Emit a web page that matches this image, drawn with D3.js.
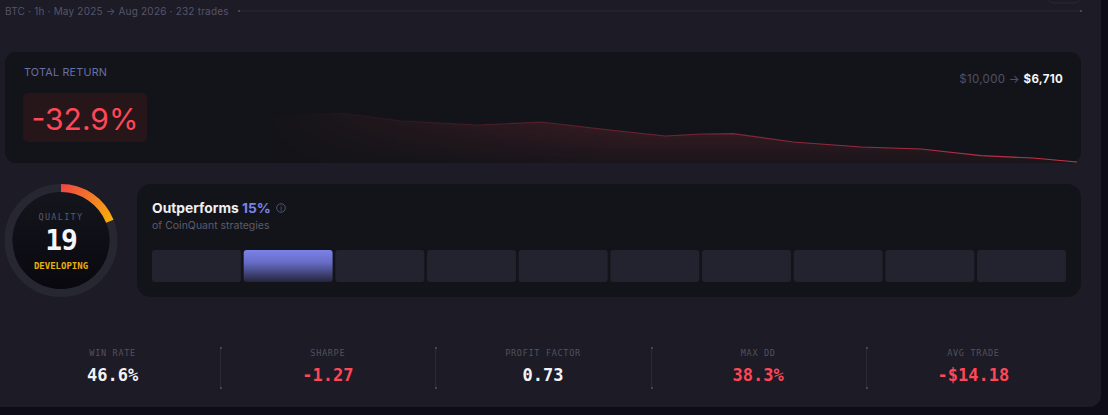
<!DOCTYPE html>
<html>
<head>
<meta charset="utf-8">
<script src="https://cdn.jsdelivr.net/npm/d3@7"></script>
<style>
    html, body { margin: 0; padding: 0; background: #0e0d17; overflow: hidden; }
    svg { display: block; }
    text { font-family: Inter, "Noto Sans", sans-serif; }
    .mono { font-family: "DejaVu Sans Mono", "Liberation Mono", monospace; }
</style>
</head>
<body>
<svg id="chart" width="1108" height="415"></svg>
<script>
// equity curve
const tradeNumbers = [0, 25, 48, 63, 82, 98, 113, 129, 138, 146, 161, 178, 193, 208, 221, 232];
const equityValues = [10000, 10250, 10547, 9920, 9607, 9842, 9294, 8746, 8902, 8926, 8276, 7885, 7728, 7203, 7023, 6710];

const headerText = "BTC · 1h · May 2025 → Aug 2026 · 232 trades";
const totalReturn = "-32.9%";
const startEquity = "$10,000";
const endEquity = "$6,710";

const qualityScore = 19;
const qualityLabel = "DEVELOPING";

const percentileBuckets = ["0-10", "10-20", "20-30", "30-40", "40-50", "50-60", "60-70", "70-80", "80-90", "90-100"];
const outperforms = 15;

const statLabels = ["WIN RATE", "SHARPE", "PROFIT FACTOR", "MAX DD", "AVG TRADE"];
const statValues = ["46.6%", "-1.27", "0.73", "38.3%", "-$14.18"];
const statIsBad = [false, true, false, true, true];

const red = "#ff4757", indigo = "#7c83e8";
const svg = d3.select("#chart");
const defs = svg.append("defs");

function linearGradient(id, attrs, stops) {
    const g = defs.append("linearGradient").attr("id", id);
    Object.keys(attrs).forEach(function (k) { g.attr(k, attrs[k]); });
    stops.forEach(function (s) {
        g.append("stop").attr("offset", s[0]).attr("stop-color", s[1]).attr("stop-opacity", s[2]);
    });
}

linearGradient("areaFill", {gradientUnits: "userSpaceOnUse", x1: 0, x2: 0, y1: 113, y2: 163},
    [[0, "#ff4757", 0.2], [1, "#ff4757", 0.03]]);
linearGradient("lineStroke", {gradientUnits: "userSpaceOnUse", x1: 300, x2: 1077, y1: 0, y2: 0},
    [[0, "#c8324a", 0], [0.35, "#c8324a", 0.35], [1, "#c8324a", 1]]);
linearGradient("areaFade", {gradientUnits: "userSpaceOnUse", x1: 260, x2: 640, y1: 0, y2: 0},
    [[0, "#fff", 0], [1, "#fff", 1]]);
// the gauge group is translated, so these coordinates are relative to its centre
linearGradient("arcFill", {gradientUnits: "userSpaceOnUse", x1: 0, y1: -56, x2: 51, y2: -18},
    [[0, "#ef4444", 1], [1, "#f8b208", 1]]);
linearGradient("bucketFill", {x1: 0, x2: 0, y1: 0, y2: 1},
    [[0, "#7c83e8", 1], [0.4, "#666bc4", 1], [1, "#24243a", 1]]);
linearGradient("coreFill", {x1: 0, x2: 0, y1: 0, y2: 1},
    [[0, "#15151d", 1], [1, "#09080f", 1]]);
defs.append("mask").attr("id", "areaMask")
    .attr("maskUnits", "userSpaceOnUse")
    .attr("x", 0).attr("y", 0).attr("width", 1108).attr("height", 415)
    .append("rect").attr("width", 1108).attr("height", 415).attr("fill", "url(#areaFade)");

// page panel
svg.append("rect").attr("x", -20).attr("y", -20).attr("width", 1121).attr("height", 427)
    .attr("rx", 12).attr("fill", "#1c1b26");

// header row
svg.append("text").attr("x", 5).attr("y", 14.5)
    .attr("font-size", 10).attr("letter-spacing", 0.2).attr("fill", "#55556a")
    .text(headerText);
svg.append("line").attr("x1", 239).attr("x2", 1081).attr("y1", 11).attr("y2", 11)
    .attr("stroke", "#2a2937");
[238, 1080].forEach(function (x) {
    svg.append("rect").attr("x", x).attr("y", 10).attr("width", 2).attr("height", 2).attr("fill", "#45455a");
});
svg.append("rect").attr("x", 1048).attr("y", -20).attr("width", 32).attr("height", 23)
    .attr("rx", 6).attr("fill", "none").attr("stroke", "#2a2937");

// total return card
svg.append("rect").attr("x", 5).attr("y", 52).attr("width", 1076).attr("height", 111)
    .attr("rx", 11).attr("fill", "#131419");

const x = d3.scaleLinear().domain([0, 232]).range([150, 1077]);
const y = d3.scaleLinear().domain([6710, 10000]).range([162, 120]);
const equity = tradeNumbers.map(function (t, i) { return {trade: t, equity: equityValues[i]}; });

const area = d3.area()
    .x(function (d) { return x(d.trade); })
    .y0(163)
    .y1(function (d) { return y(d.equity); });
const line = d3.line()
    .x(function (d) { return x(d.trade); })
    .y(function (d) { return y(d.equity); });

svg.append("path").datum(equity).attr("d", area)
    .attr("fill", "url(#areaFill)").attr("mask", "url(#areaMask)");
svg.append("path").datum(equity).attr("d", line)
    .attr("fill", "none").attr("stroke", "url(#lineStroke)").attr("stroke-width", 1.2);

svg.append("text").attr("x", 24).attr("y", 76)
    .attr("font-size", 10.8).attr("letter-spacing", 0.2).attr("fill", "#6570a8")
    .text("TOTAL RETURN");
svg.append("rect").attr("x", 23).attr("y", 93).attr("width", 124).attr("height", 49)
    .attr("rx", 5).attr("fill", "#261519");
svg.append("text").attr("x", 85).attr("y", 129.5).attr("text-anchor", "middle")
    .attr("font-size", 30).attr("fill", red)
    .text(totalReturn);

const equityText = svg.append("text").attr("x", 1063).attr("y", 83).attr("text-anchor", "end")
    .attr("font-size", 11.5).attr("letter-spacing", 0.3);
equityText.append("tspan").attr("fill", "#4f5064").text(startEquity + " → ");
equityText.append("tspan").attr("fill", "#f5f6fa").attr("font-weight", 700).text(endEquity);

// quality gauge
const gauge = svg.append("g").attr("transform", "translate(61,240.5)");
const angle = d3.scaleLinear().domain([0, 100]).range([0, 2 * Math.PI]);
gauge.append("circle").attr("r", 52.5).attr("fill", "none").attr("stroke", "#272732").attr("stroke-width", 8);
gauge.append("circle").attr("r", 48.5).attr("fill", "url(#coreFill)");

gauge.append("path")
    .attr("d", d3.arc().innerRadius(48.5).outerRadius(56.5).startAngle(0).endAngle(angle(qualityScore)))
    .attr("fill", "url(#arcFill)");

gauge.append("text").attr("class", "mono").attr("y", -20.5).attr("text-anchor", "middle")
    .attr("font-size", 8.5).attr("letter-spacing", 1.3).attr("fill", "#5a5a70")
    .text("QUALITY");
gauge.append("text").attr("class", "mono").attr("y", 9).attr("text-anchor", "middle")
    .attr("font-size", 28).attr("font-weight", 700).attr("letter-spacing", -1).attr("fill", "#f5f6fa")
    .text(qualityScore);
gauge.append("text").attr("class", "mono").attr("y", 28).attr("text-anchor", "middle")
    .attr("font-size", 9).attr("font-weight", 700).attr("fill", "#e6b10a")
    .text(qualityLabel);

// percentile card
svg.append("rect").attr("x", 137).attr("y", 184).attr("width", 944).attr("height", 113)
    .attr("rx", 14).attr("fill", "#131419");

const title = svg.append("text").attr("x", 152).attr("y", 213)
    .attr("font-size", 13.8).attr("font-weight", 700);
title.append("tspan").attr("fill", "#eeeef4").text("Outperforms ");
title.append("tspan").attr("fill", indigo).text(outperforms + "%");

const info = svg.append("g").attr("transform", "translate(281,208)");
info.append("circle").attr("r", 4.3).attr("fill", "none").attr("stroke", "#55556a");
info.append("text").attr("y", 2.6).attr("text-anchor", "middle")
    .attr("font-size", 7).attr("fill", "#6a6a7e").text("i");

svg.append("text").attr("x", 152).attr("y", 229)
    .attr("font-size", 10.5).attr("fill", "#5c5c6e")
    .text("of CoinQuant strategies");

const band = d3.scaleBand().domain(percentileBuckets).range([152, 1066]).paddingInner(0.03);
const activeBucket = percentileBuckets[Math.floor(outperforms / 10)];
svg.selectAll(".bucket").data(percentileBuckets).enter().append("rect")
    .attr("class", "bucket")
    .attr("x", function (d) { return band(d); })
    .attr("y", 250)
    .attr("width", band.bandwidth())
    .attr("height", 32)
    .attr("rx", 3)
    .attr("fill", function (d) { return d === activeBucket ? "url(#bucketFill)" : "#23232f"; });

// stats row
const statX = d3.scaleBand().domain(statLabels).range([5, 1081]);
const stat = svg.selectAll(".stat").data(statLabels).enter().append("g")
    .attr("class", "stat")
    .attr("transform", function (d) { return "translate(" + (statX(d) + statX.bandwidth() / 2) + ",0)"; });

stat.append("text").attr("class", "mono").attr("y", 356).attr("text-anchor", "middle")
    .attr("font-size", 8.5).attr("letter-spacing", 0.7).attr("fill", "#52525f")
    .text(function (d) { return d; });
stat.append("text").attr("class", "mono").attr("y", 381).attr("text-anchor", "middle")
    .attr("font-size", 17).attr("font-weight", 700)
    .attr("fill", function (d, i) { return statIsBad[i] ? red : "#f2f3f7"; })
    .text(function (d, i) { return statValues[i]; });

statLabels.slice(1).forEach(function (d) {
    const dx = Math.round(statX(d));
    svg.append("line").attr("x1", dx + 0.5).attr("x2", dx + 0.5).attr("y1", 347).attr("y2", 389)
        .attr("stroke", "#2b2b38");
    [347, 387].forEach(function (dy) {
        svg.append("rect").attr("x", dx).attr("y", dy).attr("width", 2).attr("height", 2).attr("fill", "#45455a");
    });
});
</script>
</body>
</html>
